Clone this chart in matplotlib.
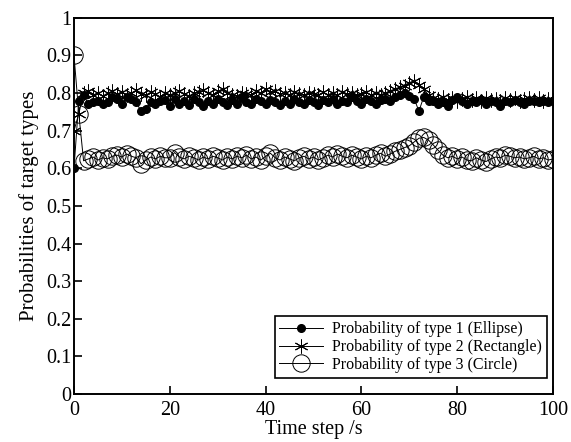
import matplotlib
matplotlib.use("Agg")
import matplotlib.pyplot as plt
import numpy as np

time_steps = list(range(0, 101))

prob_ellipse = [
    0.600, 0.780, 0.795, 0.770, 0.775, 0.780, 0.770, 0.775, 0.790, 0.785,
    0.770, 0.790, 0.785, 0.775, 0.752, 0.758, 0.775, 0.770, 0.778, 0.782,
    0.765, 0.785, 0.772, 0.780, 0.768, 0.785, 0.775, 0.765, 0.780, 0.770,
    0.785, 0.775, 0.768, 0.782, 0.772, 0.788, 0.775, 0.770, 0.785, 0.778,
    0.770, 0.782, 0.775, 0.768, 0.780, 0.772, 0.785, 0.776, 0.770, 0.782,
    0.775, 0.768, 0.782, 0.776, 0.785, 0.772, 0.780, 0.776, 0.790, 0.778,
    0.772, 0.785, 0.778, 0.770, 0.782, 0.785, 0.778, 0.790, 0.795, 0.800,
    0.792, 0.785, 0.752, 0.790, 0.780, 0.778, 0.772, 0.775, 0.765, 0.782,
    0.790, 0.778, 0.772, 0.780, 0.775, 0.782, 0.772, 0.778, 0.775, 0.765,
    0.780, 0.776, 0.782, 0.775, 0.772, 0.780, 0.778, 0.775, 0.780, 0.776,
    0.778,
]

prob_rectangle = [
    0.700, 0.745, 0.800, 0.805, 0.795, 0.800, 0.792, 0.800, 0.805, 0.798,
    0.802, 0.795, 0.800, 0.808, 0.798, 0.795, 0.802, 0.798, 0.790, 0.800,
    0.795, 0.800, 0.805, 0.798, 0.792, 0.800, 0.802, 0.808, 0.800, 0.795,
    0.805, 0.810, 0.800, 0.795, 0.792, 0.800, 0.798, 0.795, 0.805, 0.800,
    0.810, 0.802, 0.805, 0.798, 0.800, 0.795, 0.802, 0.798, 0.795, 0.800,
    0.798, 0.795, 0.802, 0.796, 0.800, 0.795, 0.802, 0.798, 0.800, 0.795,
    0.798, 0.802, 0.795, 0.800, 0.796, 0.800, 0.805, 0.810, 0.815, 0.820,
    0.828, 0.832, 0.822, 0.810, 0.795, 0.788, 0.785, 0.790, 0.782, 0.788,
    0.780, 0.785, 0.790, 0.782, 0.786, 0.780, 0.788, 0.782, 0.785, 0.780,
    0.786, 0.782, 0.788, 0.780, 0.785, 0.788, 0.782, 0.786, 0.780, 0.785,
    0.782,
]

prob_circle = [
    0.900, 0.745, 0.620, 0.625, 0.630, 0.622, 0.628, 0.625, 0.632, 0.635,
    0.630, 0.638, 0.632, 0.628, 0.612, 0.622, 0.630, 0.625, 0.632, 0.628,
    0.628, 0.642, 0.630, 0.625, 0.632, 0.628, 0.622, 0.630, 0.625, 0.632,
    0.628, 0.622, 0.630, 0.625, 0.632, 0.628, 0.635, 0.625, 0.630, 0.622,
    0.632, 0.640, 0.628, 0.622, 0.630, 0.625, 0.620, 0.628, 0.632, 0.625,
    0.630, 0.622, 0.628, 0.635, 0.630, 0.638, 0.632, 0.628, 0.635, 0.630,
    0.625, 0.632, 0.628, 0.635, 0.640, 0.632, 0.638, 0.645, 0.650, 0.655,
    0.660, 0.670, 0.680, 0.682, 0.675, 0.662, 0.648, 0.635, 0.628, 0.632,
    0.625, 0.630, 0.622, 0.620, 0.628, 0.622, 0.618, 0.625, 0.630, 0.628,
    0.635, 0.632, 0.628, 0.630, 0.625, 0.628, 0.632, 0.625, 0.628, 0.622,
    0.625,
]

labels = [
    "Probability of type 1 (Ellipse)",
    "Probability of type 2 (Rectangle)",
    "Probability of type 3 (Circle)",
]
x_ticks = [0, 20, 40, 60, 80, 100]
y_ticks = [0, 0.1, 0.2, 0.3, 0.4, 0.5, 0.6, 0.7, 0.8, 0.9, 1.0]
y_ticklabels = ["0", "0.1", "0.2", "0.3", "0.4", "0.5", "0.6", "0.7", "0.8", "0.9", "1"]

plt.rcParams["font.family"] = ["Liberation Serif", "DejaVu Serif"]

fig = plt.figure(figsize=(5.71, 4.42), dpi=100)
ax = fig.add_axes([0.1296, 0.1086, 0.839, 0.851])

lw = 0.7
h1, = ax.plot(time_steps, prob_ellipse, color="black", lw=lw, marker="o",
              markersize=5.5, markerfacecolor="black", markeredgecolor="black",
              zorder=4, label=labels[0])
h2, = ax.plot(time_steps, prob_rectangle, color="black", lw=lw, marker=(6, 2, 0),
              markersize=10, markeredgewidth=0.7, markeredgecolor="black",
              zorder=3, label=labels[1])
h3, = ax.plot(time_steps, prob_circle, color="black", lw=lw, marker="o",
              markersize=12.5, markerfacecolor="none", markeredgewidth=0.7,
              markeredgecolor="black", zorder=2, label=labels[2])

ax.set_xlim(0, 100)
ax.set_ylim(0, 1)
ax.set_xticks(x_ticks)
ax.set_xticklabels([str(t) for t in x_ticks])
ax.set_yticks(y_ticks)
ax.set_yticklabels(y_ticklabels)
ax.tick_params(direction="in", length=6, width=1.2, labelsize=14.5)
ax.tick_params(axis="x", pad=5)
ax.tick_params(axis="y", pad=2)
for s in ax.spines.values():
    s.set_linewidth(1.4)

ax.set_xlabel("Time step /s", fontsize=14.5, labelpad=0)
ax.set_ylabel("Probabilities of target types", fontsize=15, labelpad=5)

leg = ax.legend(handles=[h1, h2, h3], loc="lower right",
                bbox_to_anchor=(0.987, 0.043), fontsize=11.5, frameon=True,
                fancybox=False, edgecolor="black", framealpha=1,
                borderpad=0.3, labelspacing=0.12, handlelength=2.7,
                handletextpad=0.6, borderaxespad=0)
leg.get_frame().set_linewidth(1.2)

fig.savefig("out.png", dpi=100)
